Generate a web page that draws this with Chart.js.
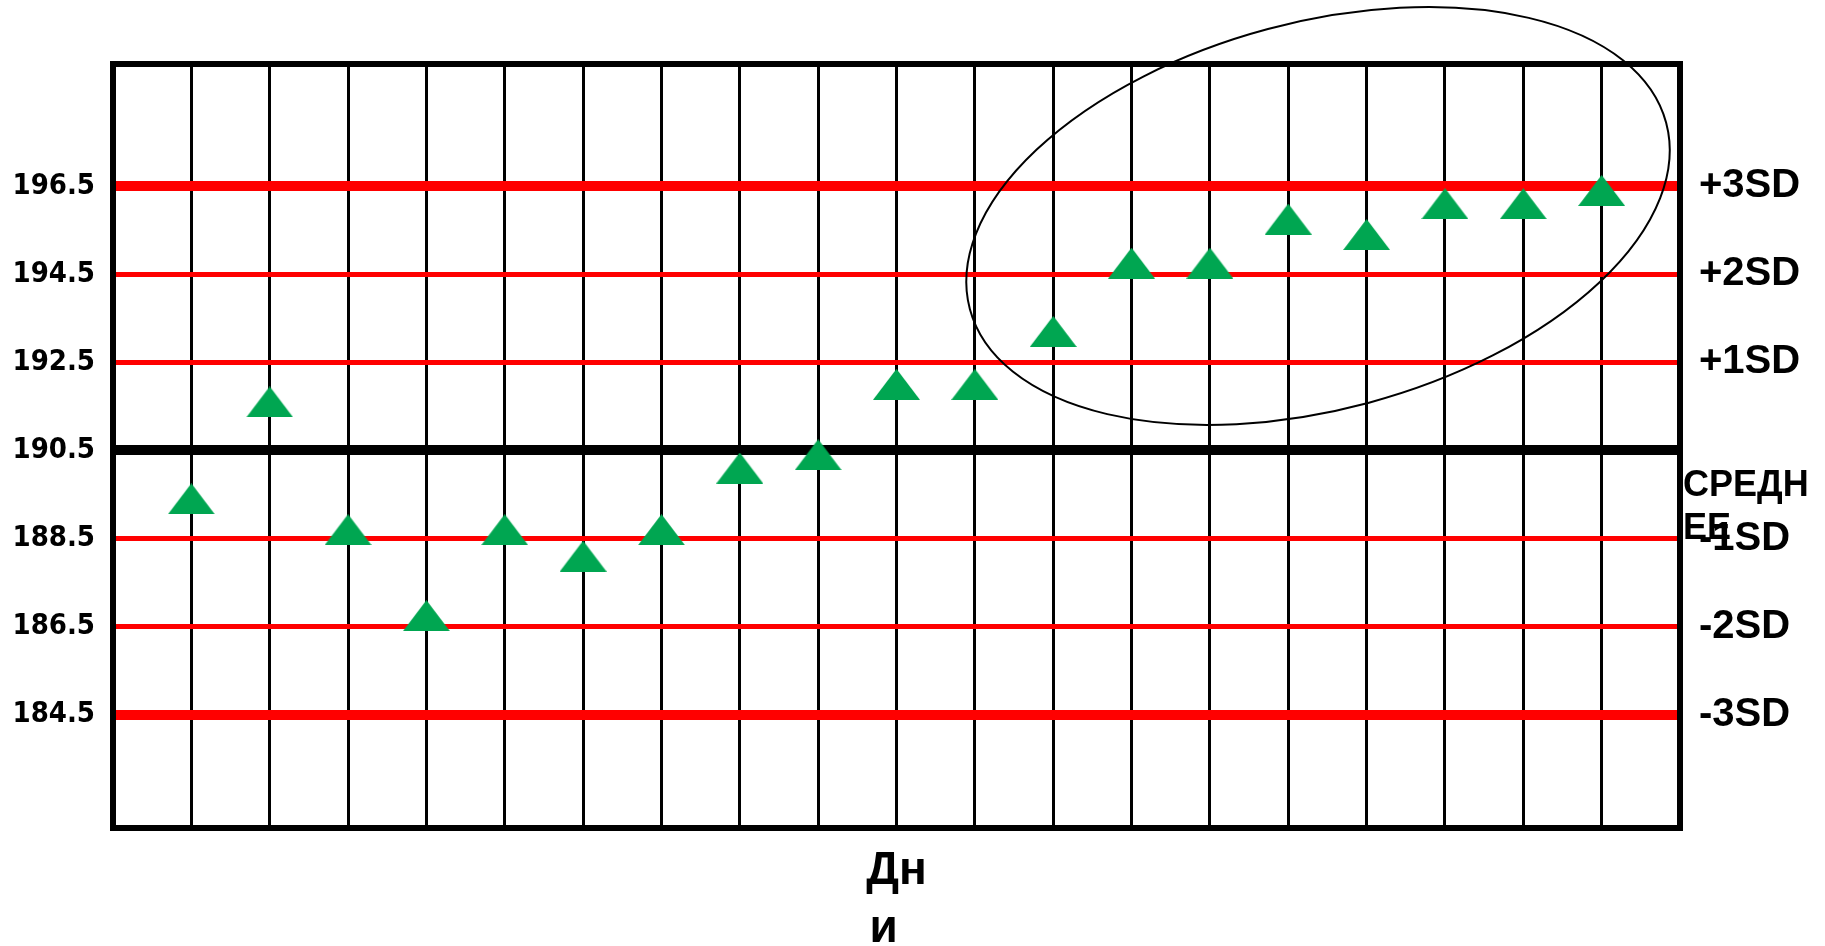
<!DOCTYPE html>
<html>
<head>
<meta charset="utf-8">
<title>Контрольная карта</title>
<script src="https://cdn.jsdelivr.net/npm/chart.js@4.4.1/dist/chart.umd.min.js"></script>
<style>
  body { margin: 0; background: #fff; }
  #wrap { width: 1825px; height: 946px; }
</style>
</head>
<body>
<div id="wrap"><canvas id="myChart" width="1825" height="946"></canvas></div>
<script>
// days (x) and measured values (y)
const days = [1, 2, 3, 4, 5, 6, 7, 8, 9, 10, 11, 12, 13, 14, 15, 16, 17, 18, 19];
const values = [189.4, 191.6, 188.7, 186.75, 188.7, 188.1, 188.7, 190.1, 190.4, 192.0,
                192.0, 193.2, 194.75, 194.75, 195.75, 195.4, 196.1, 196.1, 196.4];

// control lines and their labels
const lineValues = [184.5, 186.5, 188.5, 190.5, 192.5, 194.5, 196.5];
const sdLabels = ['-3SD', '-2SD', '-1SD', '', '+1SD', '+2SD', '+3SD'];
const meanLabel = ['СРЕДН', 'ЕЕ'];
const xTitle = ['Дн', 'и  '];   // second line sits left-aligned in the original

// line styles, same order as lineValues
const lineColors = ['#ff0000', '#ff0000', '#ff0000', '#000000', '#ff0000', '#ff0000', '#ff0000'];
const lineWidths = [10, 5, 5, 10, 5, 5, 10];

// highlighted group: centre in data units, radii in x units, tilt in degrees
const ellipseCenter = [15.38, 195.82];
const ellipseRadii = [4.6, 2.47];
const ellipseTilt = -15;

const yMin = 181.93, yMax = 199.27;

// flat green triangle marker
const tri = document.createElement('canvas');
tri.width = 47; tri.height = 31;
const tctx = tri.getContext('2d');
tctx.fillStyle = '#00a651';
tctx.beginPath();
tctx.moveTo(0, 31);
tctx.lineTo(47, 31);
tctx.lineTo(23.5, 0);
tctx.closePath();
tctx.fill();

const points = days.map((d, i) => ({ x: d, y: values[i] }));

const extras = {
  id: 'extras',
  beforeDatasetsDraw(chart) {
    const a = chart.chartArea, ctx = chart.ctx;
    ctx.save();
    ctx.strokeStyle = '#000';
    ctx.lineWidth = 6;
    ctx.strokeRect(a.left, a.top, a.right - a.left, a.bottom - a.top);
    ctx.restore();
  },
  afterDraw(chart) {
    const ctx = chart.ctx, xs = chart.scales.x, ys = chart.scales.y;
    const unit = xs.getPixelForValue(1) - xs.getPixelForValue(0);
    ctx.save();
    // ellipse around the trend
    ctx.strokeStyle = '#000';
    ctx.lineWidth = 2;
    ctx.beginPath();
    ctx.ellipse(xs.getPixelForValue(ellipseCenter[0]), ys.getPixelForValue(ellipseCenter[1]),
      ellipseRadii[0] * unit, ellipseRadii[1] * unit, ellipseTilt * Math.PI / 180, 0, Math.PI * 2);
    ctx.stroke();
    // mean label, wrapped like the original
    const my = ys.getPixelForValue(lineValues[3]);
    ctx.fillStyle = '#000';
    ctx.font = 'bold 36px "Liberation Sans"';
    ctx.textAlign = 'left';
    ctx.textBaseline = 'alphabetic';
    ctx.fillText(meanLabel[0], chart.chartArea.right + 3, my + 46);
    ctx.fillText(meanLabel[1], chart.chartArea.right + 3, my + 89);
    ctx.restore();
  }
};

const config = {
  type: 'scatter',
  data: {
    datasets: [{
      data: points,
      pointStyle: tri,
      pointRadius: 20,
      pointHoverRadius: 20,
      showLine: false
    }]
  },
  options: {
    responsive: false,
    animation: false,
    layout: { padding: { top: 64, left: 0, right: 0, bottom: 0 } },
    plugins: { legend: { display: false }, tooltip: { enabled: false } },
    scales: {
      x: {
        type: 'linear',
        min: 0,
        max: 20,
        afterFit: (s) => { s.height = 118; },
        ticks: { stepSize: 1, display: false },
        grid: { color: '#000', lineWidth: 3, drawTicks: false },
        border: { display: false },
        title: {
          display: true,
          text: xTitle,
          color: '#000',
          font: { family: '"Liberation Sans"', size: 46, weight: 'bold', lineHeight: 1.26 },
          padding: { top: 0, bottom: -12 }
        }
      },
      y: {
        type: 'linear',
        position: 'left',
        min: yMin,
        max: yMax,
        afterFit: (s) => { s.width = 113; },
        afterBuildTicks: (s) => { s.ticks = lineValues.map(v => ({ value: v })); },
        ticks: {
          padding: 18,
          color: '#000',
          font: { family: '"DejaVu Sans Condensed", "DejaVu Sans"', size: 29, weight: 'bold' },
          callback: (v) => v.toFixed(1)
        },
        grid: {
          color: (c) => lineColors[c.index],
          lineWidth: (c) => lineWidths[c.index],
          drawTicks: false
        },
        border: { display: false }
      },
      y2: {
        type: 'linear',
        position: 'right',
        min: yMin,
        max: yMax,
        afterFit: (s) => { s.width = 145; },
        afterBuildTicks: (s) => { s.ticks = lineValues.map(v => ({ value: v })); },
        ticks: {
          padding: 19,
          color: '#000',
          font: { family: '"Liberation Sans"', size: 40, weight: 'bold' },
          callback: (v, i) => sdLabels[i]
        },
        grid: { display: false, drawTicks: false },
        border: { display: false }
      }
    }
  },
  plugins: [extras]
};

var myChart = new Chart(document.getElementById('myChart'), config);
</script>
</body>
</html>
